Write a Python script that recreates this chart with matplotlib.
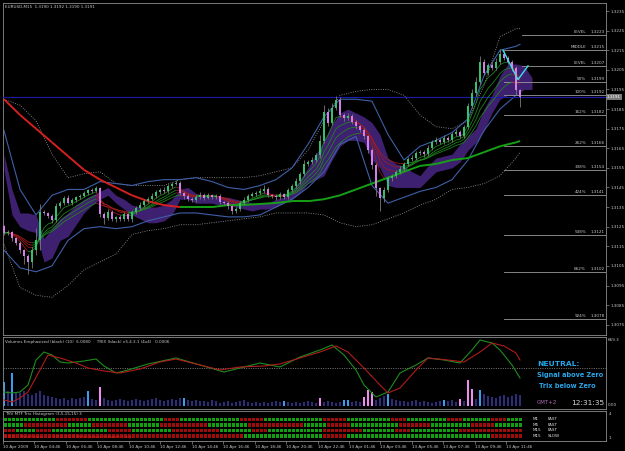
import numpy as np
import pandas as pd
import matplotlib
matplotlib.use("Agg")
from matplotlib import pyplot as plt
from matplotlib.collections import LineCollection

W, H = 625, 451

# --- EURUSD M15 candles (closes, open = previous close) ---
first_open = 1.31255
closes = [
    1.31218, 1.31223, 1.31192, 1.31167, 1.31131, 1.31101, 1.31070, 1.31131, 1.31182, 1.31325,
    1.31320, 1.31305, 1.31284, 1.31356, 1.31371, 1.31396, 1.31371, 1.31386, 1.31401, 1.31407,
    1.31422, 1.31437, 1.31432, 1.31447, 1.31315, 1.31294, 1.31325, 1.31289, 1.31299, 1.31289,
    1.31315, 1.31289, 1.31325, 1.31345, 1.31361, 1.31381, 1.31391, 1.31407, 1.31427, 1.31437,
    1.31432, 1.31458, 1.31468, 1.31473, 1.31422, 1.31407, 1.31391, 1.31386, 1.31401, 1.31412,
    1.31396, 1.31412, 1.31401, 1.31407, 1.31376, 1.31371, 1.31356, 1.31330, 1.31340, 1.31371,
    1.31386, 1.31407, 1.31417, 1.31422, 1.31432, 1.31442, 1.31412, 1.31407, 1.31401, 1.31417,
    1.31401, 1.31437, 1.31458, 1.31483, 1.31519, 1.31570, 1.31580, 1.31590, 1.31616, 1.31687,
    1.31835, 1.31779, 1.31855, 1.31896, 1.31820, 1.31804, 1.31815, 1.31784, 1.31764, 1.31743,
    1.31713, 1.31641, 1.31565, 1.31447, 1.31396, 1.31437, 1.31498, 1.31509, 1.31529, 1.31544,
    1.31570, 1.31595, 1.31600, 1.31626, 1.31631, 1.31621, 1.31651, 1.31682, 1.31692, 1.31682,
    1.31702, 1.31692, 1.31723, 1.31733, 1.31713, 1.31758, 1.31866, 1.31932, 1.31988, 1.32090,
    1.32034, 1.32075, 1.32059, 1.32090, 1.32131, 1.32110, 1.32090, 1.32059, 1.31947, 1.31910,
]
# wick lengths in half-pips
upper_wick = [
    1, 2, 1, 1, 2, 1, 2, 3, 12, 8,
    2, 1, 2, 3, 2, 2, 3, 2, 1, 2,
    2, 1, 2, 2, 1, 2, 3, 2, 1, 2,
    2, 1, 2, 2, 3, 2, 2, 3, 2, 2,
    3, 2, 2, 3, 2, 1, 2, 2, 2, 3,
    2, 2, 1, 2, 2, 1, 2, 2, 2, 2,
    3, 2, 2, 2, 3, 4, 2, 1, 2, 2,
    1, 2, 2, 3, 2, 4, 2, 3, 2, 6,
    7, 4, 5, 4, 3, 2, 3, 2, 2, 1,
    2, 1, 2, 2, 1, 3, 2, 2, 2, 3,
    2, 2, 3, 2, 2, 2, 3, 2, 3, 2,
    3, 2, 2, 3, 2, 2, 3, 4, 5, 6,
    3, 2, 3, 4, 5, 3, 2, 2, 2, 1,
]
lower_wick = [
    2, 2, 3, 2, 3, 8, 12, 6, 5, 10,
    2, 2, 3, 2, 2, 2, 1, 2, 2, 2,
    1, 2, 2, 1, 3, 6, 2, 2, 3, 2,
    2, 2, 3, 2, 2, 2, 2, 1, 2, 2,
    2, 2, 2, 1, 2, 3, 2, 2, 2, 2,
    2, 1, 2, 2, 2, 2, 3, 3, 2, 2,
    2, 2, 1, 2, 2, 2, 2, 2, 3, 2,
    2, 2, 2, 2, 3, 2, 2, 2, 2, 3,
    2, 3, 2, 2, 2, 3, 2, 2, 3, 2,
    3, 3, 4, 8, 13, 4, 2, 3, 2, 2,
    2, 2, 2, 2, 2, 3, 2, 2, 2, 2,
    2, 2, 2, 2, 2, 2, 2, 2, 3, 2,
    2, 2, 2, 2, 2, 2, 2, 3, 5, 10,
]

# --- indicator lines sampled every 4 bars ---
band_bars = [0, 4, 8, 12, 16, 20, 24, 28, 32, 36, 40, 44, 48, 52, 56, 60, 64,
             68, 72, 76, 80, 84, 88, 92, 96, 100, 104, 108, 112, 116, 120, 124, 128, 129]
bb_upper = [1.3174, 1.3144, 1.3131, 1.3141, 1.3144, 1.3144, 1.3148, 1.3147, 1.3146, 1.3148,
            1.3149, 1.3149, 1.3150, 1.3148, 1.3145, 1.3144, 1.3146, 1.3149, 1.3155, 1.3167,
            1.3181, 1.3190, 1.3190, 1.3189, 1.3172, 1.3159, 1.3166, 1.3169, 1.3173, 1.3180,
            1.3202, 1.3215, 1.3217, 1.3218]
bb_lower = [1.3113, 1.3104, 1.3102, 1.3105, 1.3118, 1.3124, 1.3125, 1.3124, 1.3125, 1.3128,
            1.3130, 1.3132, 1.3132, 1.3131, 1.3130, 1.3130, 1.3131, 1.3135, 1.3139, 1.3145,
            1.3153, 1.3167, 1.3171, 1.3146, 1.3137, 1.3140, 1.3143, 1.3145, 1.3149, 1.3159,
            1.3174, 1.3185, 1.3192, 1.3192]
env_upper = [1.3190, 1.3187, 1.3179, 1.3162, 1.3150, 1.3152, 1.3153, 1.3147, 1.3146, 1.3146,
             1.3146, 1.3149, 1.3150, 1.3150, 1.3150, 1.3150, 1.3151, 1.3153, 1.3155, 1.3164,
             1.3179, 1.3192, 1.3194, 1.3195, 1.3195, 1.3192, 1.3182, 1.3176, 1.3175, 1.3179,
             1.3197, 1.3222, 1.3226, 1.3226]
env_lower = [1.3116, 1.3094, 1.3090, 1.3089, 1.3095, 1.3103, 1.3107, 1.3111, 1.3121, 1.3123,
             1.3124, 1.3126, 1.3126, 1.3127, 1.3128, 1.3129, 1.3130, 1.3132, 1.3132, 1.3132,
             1.3131, 1.3127, 1.3125, 1.3126, 1.3129, 1.3132, 1.3136, 1.3139, 1.3144, 1.3145,
             1.3147, 1.3151, 1.3160, 1.3163]
long_ma = [1.3190, 1.3182, 1.3175, 1.3168, 1.3161, 1.3154, 1.3149, 1.3145, 1.3141, 1.3138,
           1.3136, 1.3135, 1.3135, 1.31350, 1.3136, 1.31361, 1.31366, 1.31371, 1.3138, 1.3138,
           1.3139, 1.3141, 1.3144, 1.3147, 1.3150, 1.3153, 1.3156, 1.3157, 1.3159, 1.3160,
           1.3163, 1.3166, 1.3168, 1.31687]

# purple cloud, every 2 bars (runs a few bars past the last candle)
cloud_bars = list(range(0, 133, 2))
cloud_top = [1.3162, 1.3144, 1.3132, 1.3132, 1.3131, 1.3119, 1.3124, 1.3129, 1.3132, 1.3136,
             1.3139, 1.3141, 1.3143, 1.3145, 1.3141, 1.3139, 1.3136, 1.3135, 1.3135, 1.3135,
             1.3136, 1.3139, 1.3144, 1.3145, 1.3142, 1.3141, 1.3141, 1.3140, 1.3140, 1.3139,
             1.3138, 1.3137, 1.3137, 1.3137, 1.3139, 1.3140, 1.3143, 1.3149, 1.3155, 1.3162,
             1.3169, 1.3177, 1.3183, 1.3185, 1.3183, 1.3181, 1.3178, 1.3172, 1.3160, 1.3157,
             1.3156, 1.3153, 1.3151, 1.3156, 1.3160, 1.3161, 1.3162, 1.3167, 1.3171, 1.3175,
             1.3185, 1.3192, 1.3202, 1.3208, 1.3208, 1.3207, 1.3201]
cloud_bot = [1.3154, 1.3131, 1.3125, 1.3123, 1.3122, 1.3107, 1.3109, 1.3118, 1.3120, 1.3126,
             1.3132, 1.3136, 1.3139, 1.3141, 1.3137, 1.3134, 1.3131, 1.3129, 1.3127, 1.3127,
             1.3128, 1.3131, 1.3139, 1.3139, 1.3137, 1.3137, 1.3137, 1.3136, 1.3136, 1.3135,
             1.3134, 1.3133, 1.3134, 1.3134, 1.3135, 1.3137, 1.3139, 1.3142, 1.3147, 1.3149,
             1.3151, 1.3159, 1.3166, 1.3169, 1.3169, 1.3168, 1.3159, 1.3155, 1.3146, 1.3145,
             1.3145, 1.3145, 1.3145, 1.3149, 1.3153, 1.3154, 1.3155, 1.3158, 1.3164, 1.3168,
             1.3174, 1.3183, 1.3190, 1.3192, 1.3192, 1.3195, 1.3195]

zigzag_bars = [124.75, 128.5, 131]
zigzag_px = [1.3215, 1.3200, 1.3207]

fib_names = ["LEVEL", "MIDDLE", "LEVEL", "50%", "100%", "162%", "262%", "338%",
             "424%", "538%", "662%", "924%"]
fib_prices = [1.3223, 1.3215, 1.3207, 1.3199, 1.3192, 1.3182, 1.3166, 1.3154,
              1.3141, 1.3121, 1.3102, 1.3078]
last_price = 1.3191

# --- Volumes Emphasized / TRIX window ---
volume = [
    240, 150, 330, 140, 130, 150, 120, 110, 130, 150,
    110, 100, 90, 80, 70, 80, 60, 80, 70, 80,
    90, 150, 70, 60, 190, 80, 60, 50, 60, 70,
    60, 50, 60, 70, 60, 50, 60, 70, 80, 60,
    50, 60, 70, 60, 80, 85, 60, 50, 60, 50,
    50, 40, 60, 50, 30, 40, 50, 30, 40, 50,
    60, 40, 30, 40, 30, 40, 30, 40, 50, 40,
    55, 40, 30, 40, 30, 40, 50, 40, 30, 80,
    40, 50, 40, 30, 40, 60, 60, 40, 50, 40,
    90, 160, 140, 60, 80, 100, 120, 70, 60, 50,
    50, 40, 50, 60, 40, 50, 40, 30, 40, 50,
    60, 50, 60, 40, 70, 50, 260, 170, 70, 160,
    120, 100, 90, 80, 100, 110, 90, 100, 120, 110,
]
vol_blue = [0, 2, 21, 45, 70, 85, 86, 96, 110, 119]
vol_pink = [24, 79, 90, 91, 92, 114, 116, 117]

trix_bars = [0, 2, 4, 6, 8, 10, 12, 14, 16, 20, 23, 25, 28, 31, 36, 43, 49, 55, 60, 64,
             69, 74, 79, 82, 85, 88, 90, 93, 96, 99, 103, 106, 110, 114, 117, 119, 122, 124,
             127, 129]
trix_green = [-2.4, -2.5, -2.4, -1.7, 0.8, 1.6, 1.3, 0.6, 0.5, 0.7, 0.9, 0.2, -0.5, -0.2,
              0.4, 1.0, 0.3, -0.4, 0.1, 0.5, 0.1, 1.1, 1.8, 2.3, 1.3, -0.2, -1.7, -2.9,
              -2.4, -0.5, 0.3, 1.0, 0.8, 0.5, 1.8, 2.8, 2.5, 1.8, 0.3, -1.0]
sig_bars = [0, 2, 4, 6, 9, 11, 14, 18, 21, 25, 29, 34, 39, 43, 48, 54, 59, 65, 69, 74,
            79, 83, 86, 90, 94, 96, 99, 103, 106, 111, 115, 119, 122, 125, 128, 129]
trix_red = [-3.2, -3.4, -3.0, -2.4, -0.2, 1.3, 1.0, 0.5, 0.0, -0.3, -0.5, -0.1, 0.6, 0.9,
            0.4, -0.2, 0.1, 0.2, 0.4, 1.0, 1.6, 2.2, 1.6, 0.0, -1.7, -2.5, -2.0, -0.2,
            1.0, 0.8, 0.6, 1.6, 2.5, 2.2, 1.5, 0.8]

# --- THV MTF Trix histogram rows (run lengths: g = green, r = red) ---
row_names = ["M1   FAST", "M5   FAST", "M15  FAST", "M15  SLOW"]
row_runs = [
    [("g", 13), ("r", 8), ("g", 19), ("r", 4), ("g", 15), ("r", 6), ("g", 15), ("r", 6),
     ("g", 11), ("r", 4), ("g", 10), ("r", 4), ("g", 7), ("r", 4), ("g", 4)],
    [("g", 5), ("r", 11), ("g", 6), ("r", 9), ("g", 8), ("r", 12), ("g", 10), ("r", 14),
     ("g", 6), ("r", 6), ("g", 12), ("r", 8), ("g", 10), ("r", 6), ("g", 7)],
    [("r", 3), ("g", 5), ("r", 4), ("g", 14), ("r", 6), ("g", 10), ("r", 12), ("g", 8),
     ("r", 4), ("g", 14), ("r", 10), ("g", 8), ("r", 4), ("g", 12), ("r", 16)],
    [("r", 60), ("g", 20), ("r", 6), ("g", 36), ("r", 8)],
]

time_labels = ["10 Apr 2009", "10 Apr 04:46", "10 Apr 06:46", "10 Apr 08:46", "10 Apr 10:46",
               "10 Apr 12:46", "10 Apr 14:46", "10 Apr 16:46", "10 Apr 18:46", "10 Apr 20:46",
               "10 Apr 22:46", "13 Apr 01:46", "13 Apr 03:46", "13 Apr 05:46", "13 Apr 07:46",
               "13 Apr 09:46", "13 Apr 11:46"]

GRAY = "#8c8c8c"
TXT = "#c8c8c8"
FS = 2.95


def box(x0, y0, x1, y1):
    return [x0 / W, 1 - y1 / H, (x1 - x0) / W, (y1 - y0) / H]


def slope_line(ax, x, y, up, down, lw, z):
    pts = np.column_stack([x, y])
    segs = np.stack([pts[:-1], pts[1:]], axis=1)
    cols = [up if b >= a else down for a, b in zip(y[:-1], y[1:])]
    ax.add_collection(LineCollection(segs, colors=cols, linewidths=lw, zorder=z))


def style(ax):
    ax.set_facecolor("black")
    for s in ax.spines.values():
        s.set_color(GRAY)
        s.set_linewidth(0.6)
    ax.set_xlim(-0.25, 150.5)
    ax.set_xticks([])
    ax.set_yticks([])


fig = plt.figure(figsize=(W / 100, H / 100), dpi=100, facecolor="black")

# ================= main chart =================
ax = fig.add_axes(box(3, 3, 606, 335))
style(ax)
ax.set_ylim(1.306976, 1.323908)

n = len(closes)
bars = np.arange(n)
c = np.array(closes)
o = np.concatenate([[first_open], c[:-1]])
hi = np.maximum(o, c) + np.array(upper_wick) * 0.0001 * 0.5
lo = np.minimum(o, c) - np.array(lower_wick) * 0.0001 * 0.5

ax.fill_between(cloud_bars, cloud_bot, cloud_top, color="#3e2070", lw=0, zorder=1)
ax.plot(band_bars, env_upper, color="#8a8a8a", lw=0.6, ls=(0, (1.2, 1.6)), zorder=2)
ax.plot(band_bars, env_lower, color="#8a8a8a", lw=0.6, ls=(0, (1.2, 1.6)), zorder=2)
ax.plot(band_bars, bb_upper, color="#3f5fa8", lw=0.8, zorder=2)
ax.plot(band_bars, bb_lower, color="#3f5fa8", lw=0.8, zorder=2)

for name, price in zip(fib_names, fib_prices):
    start = 129.5 if name == "LEVEL" else 125
    ax.plot([start, 151], [price, price], color="#9a9a9a", lw=0.6, zorder=2)
    ax.text(145.5, price + 0.00005, name, color=TXT, fontsize=FS, ha="right", va="bottom")
    ax.text(150.2, price + 0.00005, f"{price:.4f}", color=TXT, fontsize=FS, ha="right",
            va="bottom")

ax.axhline(last_price, color="#1a1aa8", lw=0.8, zorder=3)

ribbon = pd.Series(c)
for span in [5, 8, 11, 15]:
    ema = ribbon.ewm(span=span, adjust=False).mean().to_numpy()
    slope_line(ax, bars, ema, "#1f8a1f", "#a31c1c", 0.55, 3)

slope_line(ax, np.array(band_bars, float), np.array(long_ma), "#16a016", "#d42020", 1.4, 3)

ax.vlines(bars, lo, hi, color="#7a7a7a", lw=0.6, zorder=4)
bull = c >= o
body_col = np.where(bull, "#36c06e", "#d47ee8")
body_h = np.maximum(np.abs(c - o), 0.00004)
ax.bar(bars, body_h, bottom=np.minimum(o, c), width=0.68, color=body_col, lw=0, zorder=5)

ax.plot(zigzag_bars, zigzag_px, color="#3fe0f0", lw=1.0, zorder=6)

ax.yaxis.tick_right()
price_ticks = np.arange(1.3075, 1.32351, 0.001)
ax.set_yticks(price_ticks)
ax.set_yticklabels([f"{v:.4f}" for v in price_ticks])
ax.tick_params(axis="y", colors=GRAY, labelcolor=TXT, labelsize=FS, length=2, width=0.5, pad=1)
ax.text(0.003, 0.994, "EURUSD,M15  1.3190 1.3192 1.3190 1.3191", transform=ax.transAxes,
        color=TXT, fontsize=FS, va="top", ha="left")
fig.text(607 / W, 1 - 97 / H, f"{last_price:.4f}", color="white", fontsize=FS, va="center",
         ha="left", bbox=dict(facecolor="#7a7a7a", edgecolor="none", pad=0.6))

# ================= volumes / TRIX window =================
av = fig.add_axes(box(3, 337, 606, 409))
style(av)
av.set_ylim(-30.4, 699.7)
vcol = ["#2c2c78"] * n
for i in vol_blue:
    vcol[i] = "#3a9cf0"
for i in vol_pink:
    vcol[i] = "#f08cf0"
av.bar(bars, volume, width=0.45, color=vcol, lw=0, zorder=2)

at = av.twinx()
at.set_ylim(-4.1, 3.1)
at.set_xlim(-0.25, 150.5)
at.axis("off")
at.axhline(0, color="#8a8a8a", lw=0.6, ls=(0, (1.2, 1.6)))
at.plot(trix_bars, trix_green, color="#1e8c1e", lw=0.8)
at.plot(sig_bars, trix_red, color="#b01c1c", lw=0.8)

av.text(0.004, 0.96, "Volumes Emphasized (black) (10)  6.0080     TRIX (black) v5.4.3.1 (4x4)   0.0006",
        transform=av.transAxes, color=TXT, fontsize=FS, va="top", ha="left")
fig.text(537 / W, 1 - 364 / H, "NEUTRAL:", color="#27a6ea", fontsize=5.4, weight="bold",
         va="center", ha="left")
fig.text(537 / W, 1 - 375 / H, "Signal above Zero", color="#27a6ea", fontsize=4.7,
         weight="bold", va="center", ha="left")
fig.text(539 / W, 1 - 386 / H, "Trix below Zero", color="#27a6ea", fontsize=4.7,
         weight="bold", va="center", ha="left")
fig.text(537 / W, 1 - 403 / H, "GMT+2", color="#b26ab8", fontsize=4.0, va="center", ha="left")
fig.text(571 / W, 1 - 403 / H, "12:31:35", color="#d8d8d8", fontsize=5.3, va="center", ha="left")
fig.text(608 / W, 1 - 340 / H, "669.3", color=TXT, fontsize=FS, va="center", ha="left")
fig.text(608 / W, 1 - 405 / H, "0.00", color=TXT, fontsize=FS, va="center", ha="left")

# ================= MTF histogram window =================
ah = fig.add_axes(box(3, 411, 606, 441))
style(ah)
ah.set_ylim(4.909, -0.545)
for r, runs in enumerate(row_runs):
    cols = []
    for colr, cnt in runs:
        cols += ["#10a010" if colr == "g" else "#a00c0c"] * cnt
    ah.bar(bars[:len(cols)], 0.6, bottom=r + 1 - 0.3, width=0.75, color=cols, lw=0)
    tf, speed = row_names[r].split()
    ah.text(132.2, r + 1, tf, color="#e0e0e0", fontsize=FS, va="center", ha="left")
    ah.text(135.8, r + 1, speed, color="#e0e0e0", fontsize=FS, va="center", ha="left")
ah.text(0.004, 0.97, "THV MTF Trix Histogram (3,5,15,15) 3", transform=ah.transAxes,
        color=TXT, fontsize=FS, va="top", ha="left")
ah.text(0.004, 0.12, "FXDD - MetaTrader, (c) 2001-2009 MetaQuotes Software Corp.",
        transform=ah.transAxes, color="#e02020", fontsize=FS, va="center", ha="left")
fig.text(609 / W, 1 - 414 / H, "4", color=TXT, fontsize=FS, va="center", ha="left")
fig.text(609 / W, 1 - 438 / H, "1", color=TXT, fontsize=FS, va="center", ha="left")

tick_bars = np.linspace(-0.75, 125.5, len(time_labels))
ah.set_xticks(tick_bars)
ah.set_xticklabels(time_labels)
ah.tick_params(axis="x", colors=GRAY, labelcolor=TXT, labelsize=FS, length=2, width=0.5, pad=1)
for lbl in ah.get_xticklabels():
    lbl.set_ha("left")

fig.savefig("out.png", dpi=100, facecolor="black")
